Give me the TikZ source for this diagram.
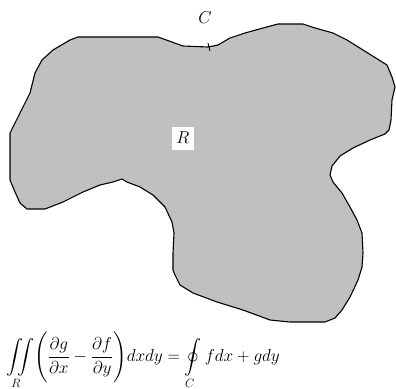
\documentclass[tikz,border=0pt]{standalone}
\usepackage{amsmath}
\usepackage{amssymb}
\usepackage{xcolor}
\usepackage{tikz}
\usetikzlibrary{calc}

\definecolor{regiongray}{RGB}{192,192,192}

\begin{document}
\begin{tikzpicture}[
    x=1pt, y=-1pt,
    every node/.style={font=\fontsize{18}{21}\selectfont},
    region/.style={draw=black, fill=regiongray, line width=1.1pt, line join=round},
    labelbox/.style={fill=white, inner sep=3pt, minimum width=22pt, minimum height=23pt},
    curvelabel/.style={inner sep=1pt},
    formula/.style={anchor=west, inner sep=0pt, font=\fontsize{17}{20}\selectfont},
    tick/.style={black, line width=0.9pt}
  ]
    \useasboundingbox (0,0) rectangle (396,388);

    % ── Region R bounded by the curve C ──
    \draw[region] (78,37) -- (158,37) -- (183,46) -- (208,47) -- (218,45)
      -- (230,38) -- (245,33) -- (263,28) -- (278,24) -- (303,24) -- (315,28)
      -- (333,33) -- (347,40) -- (363,50) -- (387,65) -- (392,77) -- (395,87)
      -- (392,100) -- (391,120) -- (389,130) -- (385,134) -- (370,140)
      -- (353,148) -- (340,156) -- (332,166) -- (330,175) -- (333,182)
      -- (342,193) -- (350,207) -- (357,220) -- (362,233) -- (363,253)
      -- (362,267) -- (358,280) -- (350,297) -- (342,310) -- (335,318)
      -- (325,322) -- (290,322) -- (270,320) -- (243,310) -- (217,302)
      -- (193,293) -- (180,285) -- (175,275) -- (173,270) -- (173,253)
      -- (174,233) -- (172,222) -- (165,207) -- (153,195) -- (140,187)
      -- (127,182) -- (122,179) -- (113,182) -- (100,185) -- (83,192)
      -- (63,202) -- (45,209) -- (27,209) -- (20,203) -- (15,192) -- (10,180)
      -- (10,133) -- (13,127) -- (23,107) -- (30,93) -- (35,73) -- (42,60)
      -- (53,50) -- (70,40) -- cycle;

    % ── Labels ──
    \coordinate (tickpt) at (208,47);
    \draw[tick] ($(tickpt)+(0,-4)$) -- ($(tickpt)+(2,4)$);
    \node[curvelabel] (clabel) at (205,18) {$C$};
    \node[labelbox] (rlabel) at (183,138) {$R$};

    % ── Green's theorem ──
    \node[formula] (green) at (6,360) {$\displaystyle
      \iint\limits_R \Biggl(\frac{\partial g}{\partial x}-\frac{\partial f}{\partial y}\Biggr) dx dy
      = \oint\limits_C f dx + g dy$};

  \end{tikzpicture}
\end{document}
